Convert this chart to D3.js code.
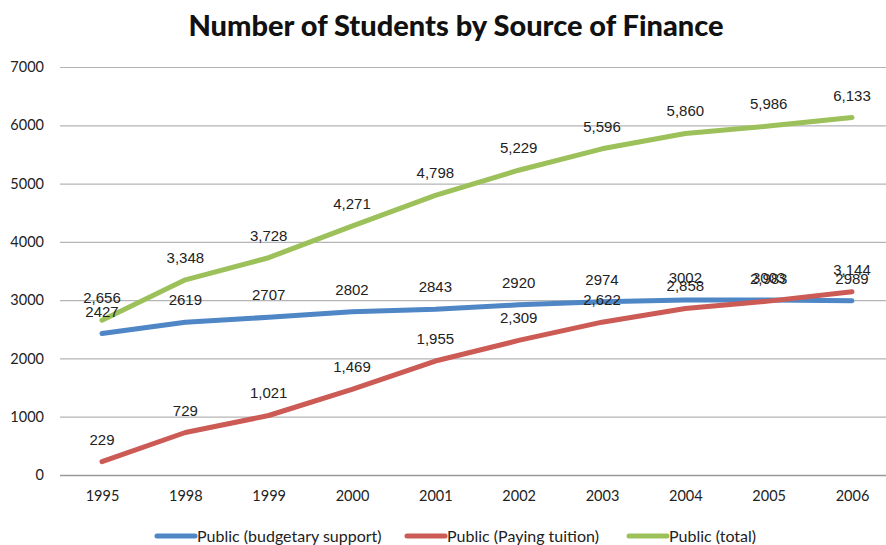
<!DOCTYPE html>
<html>
<head>
<meta charset="utf-8">
<script src="https://d3js.org/d3.v7.min.js"></script>
<style>
  body { margin: 0; background: #fff; }
  .title { font-family: Lato, "Open Sans", sans-serif; font-weight: 900; font-size: 29px; fill: #111; }
  .tick text { font-family: Lato, "Open Sans", sans-serif; font-size: 14.5px; fill: #222; }
  .lbl { font-family: "Liberation Sans", Arial, sans-serif; font-size: 15px; fill: #222; }
  .legend text { font-family: Lato, "Open Sans", sans-serif; font-size: 16px; fill: #222; }
</style>
</head>
<body>
<svg width="886" height="545"></svg>
<script>
// chart data
const years = ['1995', '1998', '1999', '2000', '2001', '2002', '2003', '2004', '2005', '2006'];
const budgetary = [2427, 2619, 2707, 2802, 2843, 2920, 2974, 3002, 3003, 2989];
const tuition = [229, 729, 1021, 1469, 1955, 2309, 2622, 2858, 2983, 3144];
const total = [2656, 3348, 3728, 4271, 4798, 5229, 5596, 5860, 5986, 6133];
const yTicks = [0, 1000, 2000, 3000, 4000, 5000, 6000, 7000];

const series = [
  { name: 'Public (budgetary support)', values: budgetary, color: '#4f86c6', fmt: d3.format('d') },
  { name: 'Public (Paying tuition)', values: tuition, color: '#cc5a55', fmt: d3.format(',') },
  { name: 'Public (total)', values: total, color: '#9dc15a', fmt: d3.format(',') }
];

const svg = d3.select('svg');

const x = d3.scalePoint().domain(years).range([102, 852]);
const y = d3.scaleLinear().domain([0, 7000]).range([475, 67]);

svg.append('text')
  .attr('class', 'title')
  .attr('x', 456).attr('y', 36)
  .attr('text-anchor', 'middle')
  .text('Number of Students by Source of Finance');

// gridlines + y labels
const yAxis = svg.append('g')
  .attr('transform', 'translate(60,0)')
  .call(d3.axisLeft(y).tickValues(yTicks).tickSize(-840).tickPadding(16).tickFormat(d3.format('d')));
yAxis.select('.domain').remove();
yAxis.selectAll('.tick line').attr('stroke', '#b5b5b5').attr('stroke-width', 1.2);
yAxis.selectAll('.tick').filter(d => d === 0).select('line').attr('stroke', '#999').attr('stroke-width', 1.5);

// x labels
const xAxis = svg.append('g')
  .attr('transform', 'translate(0,475)')
  .call(d3.axisBottom(x).tickSize(0).tickPadding(16));
xAxis.select('.domain').remove();

const line = d3.line()
  .x((d, i) => x(years[i]))
  .y(d => y(d));

series.forEach(s => {
  svg.append('path')
    .datum(s.values)
    .attr('fill', 'none')
    .attr('stroke', s.color)
    .attr('stroke-width', 5)
    .attr('stroke-linecap', 'round')
    .attr('stroke-linejoin', 'round')
    .attr('d', line);
});

series.forEach(s => {
  svg.append('g').selectAll('text')
    .data(s.values)
    .join('text')
    .attr('class', 'lbl')
    .attr('x', (d, i) => x(years[i]))
    .attr('y', d => y(d) - 17)
    .attr('text-anchor', 'middle')
    .text(d => s.fmt(d));
});

// legend
const legendX = [155, 405, 627];
const legend = svg.append('g').attr('class', 'legend');
series.forEach((s, i) => {
  const g = legend.append('g').attr('transform', `translate(${legendX[i]},536)`);
  g.append('line')
    .attr('x1', 2).attr('x2', 40)
    .attr('stroke', s.color).attr('stroke-width', 5).attr('stroke-linecap', 'round');
  g.append('text').attr('x', 42).attr('y', 5.5).text(s.name);
});
</script>
</body>
</html>
